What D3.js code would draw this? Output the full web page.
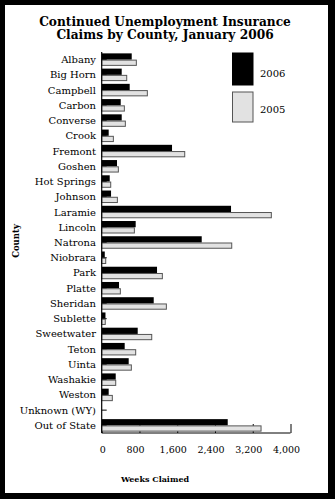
<!DOCTYPE html>
<html>
<head>
<meta charset="utf-8">
<script src="https://cdn.jsdelivr.net/npm/d3@7"></script>
<style>
  html, body { margin: 0; padding: 0; background: #fff; }
  svg { display: block; }
  text { font-family: "DejaVu Serif", serif; fill: #000; }
</style>
</head>
<body>
<svg id="chart" width="335" height="499"></svg>
<script>
const counties = ["Albany","Big Horn","Campbell","Carbon","Converse","Crook","Fremont","Goshen","Hot Springs","Johnson","Laramie","Lincoln","Natrona","Niobrara","Park","Platte","Sheridan","Sublette","Sweetwater","Teton","Uinta","Washakie","Weston","Unknown (WY)","Out of State"];
const claims2006 = [636,424,593,403,424,148,1490,324,170,198,2740,720,2119,65,1172,367,1102,80,763,487,572,297,148,0,2670];
const claims2005 = [734,530,967,480,501,247,1759,353,191,332,3594,692,2755,85,1285,395,1370,75,1060,720,628,297,225,0,3376];
const seriesNames = ["2006","2005"];
const xTicks = [0,800,1600,2400,3200,4000];

const svg = d3.select("#chart");
// frame
svg.append("rect").attr("x",0).attr("y",0).attr("width",335).attr("height",499).attr("fill","#000");
svg.append("rect").attr("x",5).attr("y",5).attr("width",323).attr("height",488).attr("fill","#fff");

// title
const title = svg.append("text").attr("text-anchor","middle").attr("font-weight","bold").attr("font-size",12.2);
title.append("tspan").attr("x",165).attr("y",26).text("Continued Unemployment Insurance");
title.append("tspan").attr("x",165).attr("y",39).text("Claims by County, January 2006");

const x = d3.scaleLinear().domain([0,4000]).range([101.7,290.5]);
const y = d3.scaleBand().domain(counties).range([52,433]).paddingInner(0.18).paddingOuter(0.09);
const sub = d3.scaleBand().domain(seriesNames).range([0,y.bandwidth()]);

// x axis (ticks pointing up, inside)
const xAxisG = svg.append("g").attr("transform","translate(0,433)")
  .call(d3.axisTop(x).tickValues(xTicks).tickSize(9).tickFormat(""));
xAxisG.select(".domain").attr("d",`M${x(0)},0H${x(4000)}`).attr("stroke","#000");
xAxisG.selectAll(".tick line").attr("stroke","#000");

// x tick labels
svg.append("g").selectAll("text").data(xTicks).join("text")
  .attr("x",d => x(d) - (d === 0 ? -1 : 4))
  .attr("y",452.5)
  .attr("text-anchor","middle")
  .attr("font-size",9.5)
  .text(d => d3.format(",")(d));

// y axis ticks (right, inside) at category centres
const yTicks = svg.append("g");
yTicks.selectAll("line").data(counties).join("line")
  .attr("x1",x(0)).attr("x2",x(0)+5)
  .attr("y1",d => y(d)+y.bandwidth()/2).attr("y2",d => y(d)+y.bandwidth()/2)
  .attr("stroke","#000");

// bars
const rows = counties.map((c,i) => ({county:c, values:[{k:"2006",v:claims2006[i]},{k:"2005",v:claims2005[i]}]}));
const g = svg.append("g");
const rowG = g.selectAll("g").data(rows).join("g").attr("transform",d => `translate(0,${y(d.county)})`);
rowG.selectAll("rect").data(d => d.values.filter(e => e.v > 0)).join("rect")
  .attr("x",x(0))
  .attr("y",d => sub(d.k) + (d.k === "2005" ? 0.5 : 0))
  .attr("width",d => x(d.v) - x(0))
  .attr("height",d => sub.bandwidth() - (d.k === "2005" ? 1 : 0))
  .attr("fill",d => d.k === "2006" ? "#000" : "#e2e2e2")
  .attr("stroke",d => d.k === "2006" ? "none" : "#555")
  .attr("stroke-width",1);

// y axis line
svg.append("line").attr("x1",x(0)).attr("x2",x(0)).attr("y1",52).attr("y2",433).attr("stroke","#000").attr("stroke-width",1.2);

// y labels
svg.append("g").selectAll("text").data(counties).join("text")
  .attr("x",96)
  .attr("y",d => y(d)+y.bandwidth()/2)
  .attr("dy","0.35em")
  .attr("text-anchor","end")
  .attr("font-size",10)
  .text(d => d);

// axis titles
svg.append("text").attr("transform","translate(19,241) rotate(-90)")
  .attr("text-anchor","middle").attr("font-weight","bold").attr("font-size",8.5).text("County");
svg.append("text").attr("x",155).attr("y",482)
  .attr("text-anchor","middle").attr("font-weight","bold").attr("font-size",8).text("Weeks Claimed");

// legend
const legend = [{k:"2006", y:53, h:32, ty:77},{k:"2005", y:92, h:30, ty:113}];
const lg = svg.append("g");
lg.selectAll("rect").data(legend).join("rect")
  .attr("x",232.5).attr("y",d => d.y).attr("width",20.5).attr("height",d => d.h)
  .attr("fill",d => d.k === "2006" ? "#000" : "#e2e2e2")
  .attr("stroke",d => d.k === "2006" ? "#000" : "#555");
lg.selectAll("text").data(legend).join("text")
  .attr("x",260).attr("y",d => d.ty).attr("font-size",10).text(d => d.k);
</script>
</body>
</html>
